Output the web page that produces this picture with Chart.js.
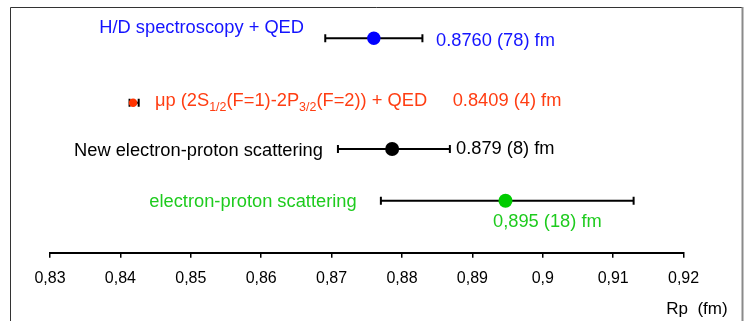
<!DOCTYPE html>
<html><head><meta charset="utf-8">
<script src="https://cdn.jsdelivr.net/npm/chart.js@4/dist/chart.umd.min.js"></script>
<style>html,body{margin:0;padding:0;background:#fff}#wrap{width:747px;height:321px;position:relative}</style>
</head><body><div id="wrap"><canvas id="c" width="747" height="321"></canvas></div>
<script>
// ---- data ----
const measurements = ["H/D spectroscopy + QED", "μp (2S1/2(F=1)-2P3/2(F=2)) + QED", "New electron-proton scattering", "electron-proton scattering"];
const centralValues = [0.8760, 0.8418, 0.8786, 0.8947];
const lowerBounds = [0.8691, 0.8413, 0.8709, 0.8770];
const upperBounds = [0.8829, 0.8426, 0.8868, 0.9129];
const valueLabels = ["0.8760 (78) fm", "0.8409 (4) fm", "0.879 (8) fm", "0,895 (18) fm"];
const rowPositions = [21.44, 15.0, 10.37, 5.2];
const xTicks = [0.83, 0.84, 0.85, 0.86, 0.87, 0.88, 0.89, 0.90, 0.91, 0.92];
const xTickLabels = ["0,83", "0,84", "0,85", "0,86", "0,87", "0,88", "0,89", "0,9", "0,91", "0,92"];
const axisTitle = "Rp  (fm)";

// ---- styling / placement (not data) ----
const FONT = "'Liberation Sans', Arial, sans-serif";
const rowColors = ["#1414ff", "#ff3d12", "#000000", "#1ecb1e"];
const dotColors = ["#0000ff", "#ff3300", "#000000", "#00cc00"];
const dotRadius = [6.7, 4.3, 7, 7];
// anchors in data units: [x of left edge, y of baseline]
const namePlacement = [[0.83700, 21.94], [0.84491, 14.67], [0.83341, 9.70], [0.84411, 4.54]];
const valuePlacement = [[0.88483, 20.67], [0.88720, 14.67], [0.88767, 9.84], [0.89293, 2.60]];
const TEXT_SIZE = 18.3;

function drawRich(ctx, text, x, y, size) {
  const parts = [];
  const re = /(S|P)(1\/2|3\/2)/g;
  let last = 0, m;
  while ((m = re.exec(text)) !== null) {
    parts.push({t: text.slice(last, m.index + 1), sub: false});
    parts.push({t: m[2], sub: true});
    last = m.index + m[0].length;
  }
  parts.push({t: text.slice(last), sub: false});
  let cx = x;
  for (const p of parts) {
    const s = p.sub ? size * 0.68 : size;
    ctx.font = s + "px " + FONT;
    ctx.fillText(p.t, cx, p.sub ? y + size * 0.28 : y);
    cx += ctx.measureText(p.t).width;
  }
}

const annot = {
  id: 'annot',
  beforeDraw(chart) {
    const ctx = chart.ctx;
    ctx.save();
    ctx.fillStyle = '#fff';
    ctx.fillRect(0, 0, chart.width, chart.height);
    ctx.lineWidth = 1;
    ctx.strokeStyle = '#333';
    ctx.beginPath();
    ctx.moveTo(10.5, 321); ctx.lineTo(10.5, 7.5); ctx.lineTo(742, 7.5);
    ctx.stroke();
    ctx.strokeStyle = '#8a8a8a';
    ctx.lineWidth = 2;
    ctx.beginPath();
    ctx.moveTo(742.5, 7); ctx.lineTo(742.5, 321);
    ctx.stroke();
    ctx.restore();
  },
  beforeDatasetsDraw(chart) {
    const ctx = chart.ctx, xs = chart.scales.x, ys = chart.scales.y;
    ctx.save();
    ctx.strokeStyle = '#000';
    ctx.lineWidth = 2;
    for (let i = 0; i < centralValues.length; i++) {
      const y = ys.getPixelForValue(rowPositions[i]);
      const x1 = xs.getPixelForValue(lowerBounds[i]);
      const x2 = xs.getPixelForValue(upperBounds[i]);
      ctx.beginPath();
      ctx.moveTo(x1, y); ctx.lineTo(x2, y);
      ctx.moveTo(x1, y - 4); ctx.lineTo(x1, y + 4);
      ctx.moveTo(x2, y - 4); ctx.lineTo(x2, y + 4);
      ctx.stroke();
    }
    ctx.restore();
  },
  afterDatasetsDraw(chart) {
    const ctx = chart.ctx, xs = chart.scales.x, ys = chart.scales.y;
    ctx.save();
    ctx.textBaseline = 'alphabetic';
    ctx.textAlign = 'left';
    for (let i = 0; i < measurements.length; i++) {
      ctx.fillStyle = rowColors[i];
      drawRich(ctx, measurements[i], xs.getPixelForValue(namePlacement[i][0]), ys.getPixelForValue(namePlacement[i][1]), TEXT_SIZE);
      ctx.font = TEXT_SIZE + "px " + FONT;
      ctx.fillText(valueLabels[i], xs.getPixelForValue(valuePlacement[i][0]), ys.getPixelForValue(valuePlacement[i][1]));
    }
    ctx.fillStyle = '#000';
    ctx.font = "17px " + FONT;
    ctx.textAlign = 'right';
    ctx.fillText(axisTitle, chart.chartArea.right + 44, chart.chartArea.bottom + 61);
    ctx.restore();
  }
};

new Chart(document.getElementById('c'), {
  type: 'scatter',
  data: {
    datasets: [{
      data: centralValues.map((v, i) => ({x: v, y: rowPositions[i]})),
      pointBackgroundColor: dotColors,
      pointBorderColor: dotColors,
      pointBorderWidth: 0,
      pointRadius: dotRadius,
      showLine: false
    }]
  },
  options: {
    responsive: false,
    devicePixelRatio: 1,
    animation: false,
    layout: {padding: {left: 50, right: 63.4, top: 12.7, bottom: 18.3}},
    plugins: {legend: {display: false}, tooltip: {enabled: false}},
    scales: {
      x: {
        type: 'linear', min: 0.83, max: 0.92,
        afterBuildTicks: s => { s.ticks = xTicks.map(v => ({value: v})); },
        afterFit: s => { s.height = 50; },
        ticks: {
          callback: (v, i) => xTickLabels[i],
          color: '#000', font: {family: FONT, size: 16}, padding: 11,
          maxRotation: 0, autoSkip: false
        },
        grid: {drawOnChartArea: false, drawTicks: true, tickLength: 5, color: '#000', lineWidth: 1.5},
        border: {display: true, color: '#000', width: 2}
      },
      y: {display: false, min: 0, max: 24}
    }
  },
  plugins: [annot]
});
</script></body></html>
